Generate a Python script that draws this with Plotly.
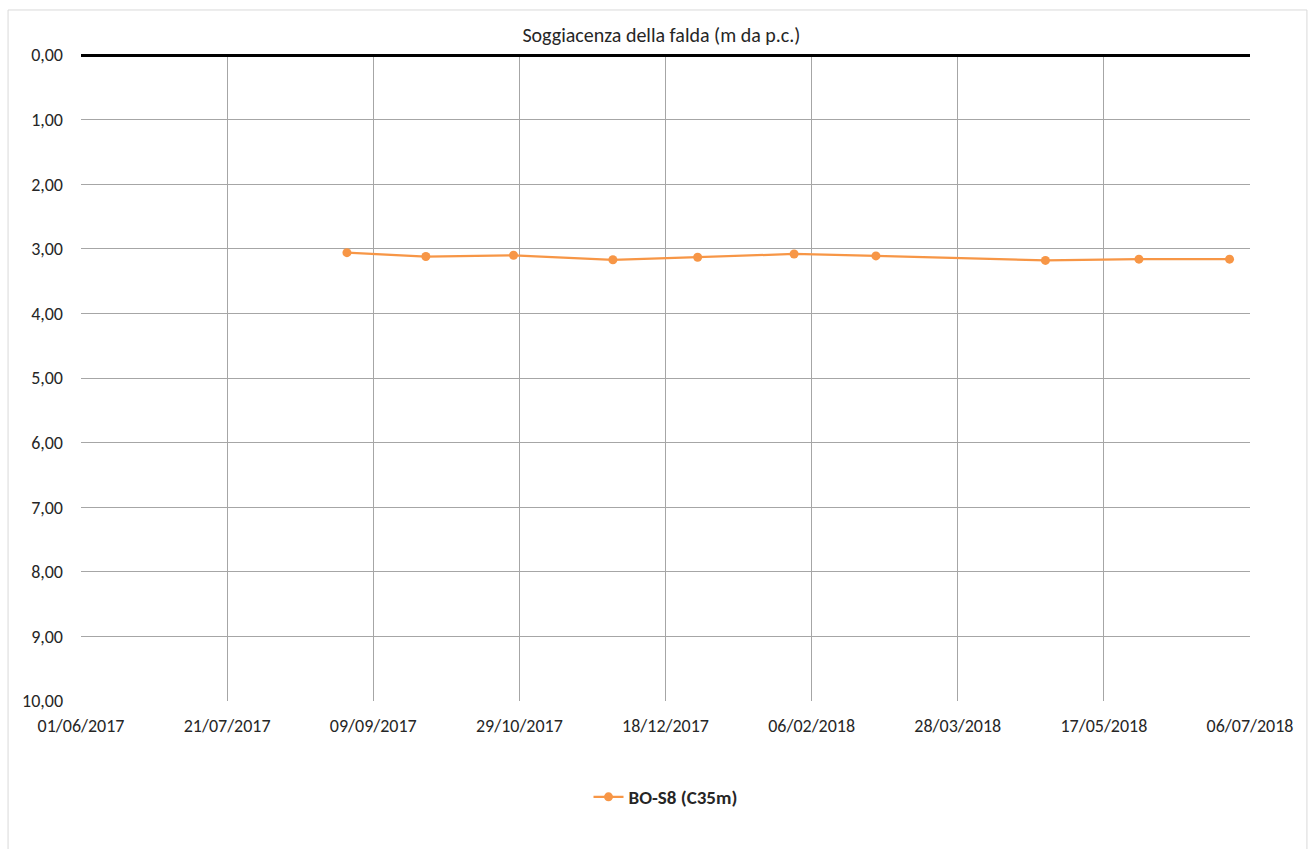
import datetime as dt
import plotly.graph_objects as go

# Groundwater depth below ground level (m) for well BO-S8
dates = ["2017-08-31", "2017-09-27", "2017-10-27", "2017-11-30", "2017-12-29",
         "2018-01-31", "2018-02-28", "2018-04-27", "2018-05-29", "2018-06-29"]
depth = [3.06, 3.12, 3.10, 3.17, 3.13, 3.08, 3.11, 3.18, 3.16, 3.16]

x_tick_labels = ["01/06/2017", "21/07/2017", "09/09/2017", "29/10/2017", "18/12/2017",
                 "06/02/2018", "28/03/2018", "17/05/2018", "06/07/2018"]
y_tick_values = [0, 1, 2, 3, 4, 5, 6, 7, 8, 9, 10]
y_tick_labels = ["0,00", "1,00", "2,00", "3,00", "4,00", "5,00",
                 "6,00", "7,00", "8,00", "9,00", "10,00"]

x_tick_values = [dt.datetime.strptime(s, "%d/%m/%Y").strftime("%Y-%m-%d") for s in x_tick_labels]

FONT = "Carlito, Calibri, Lato, sans-serif"
ORANGE = "#F79646"
GRID = "#A6A6A6"
TEXT = "#262626"

fig = go.Figure()
fig.add_trace(go.Scatter(
    x=dates, y=depth, mode="lines+markers", name="BO-S8 (C35m)",
    line=dict(color=ORANGE, width=2.25),
    marker=dict(color=ORANGE, size=9),
))

fig.update_layout(
    width=1311, height=849,
    margin=dict(l=81, r=61, t=55, b=148),
    paper_bgcolor="white", plot_bgcolor="white",
    font=dict(family=FONT, size=18, color=TEXT),
    title=dict(text="Soggiacenza della falda (m da p.c.)", x=0.5045, xanchor="center",
               y=1 - 35 / 849, yanchor="middle", font=dict(family=FONT, size=20, color=TEXT)),
    showlegend=True,
    legend=dict(orientation="h", x=0.5, xanchor="center", y=-0.1486, yanchor="middle",
                font=dict(family=FONT, size=19, color=TEXT, weight="bold")),
    xaxis=dict(
        type="date", range=[x_tick_values[0], x_tick_values[-1]],
        tickmode="array", tickvals=x_tick_values, ticktext=x_tick_labels,
        showgrid=True, gridcolor=GRID, gridwidth=1,
        showline=False, zeroline=False, ticks="", ticklabelstandoff=12,
        tickfont=dict(family=FONT, size=18, color=TEXT),
    ),
    yaxis=dict(
        range=[10, 0], tickmode="array", tickvals=y_tick_values, ticktext=y_tick_labels,
        showgrid=True, gridcolor=GRID, gridwidth=1,
        zeroline=True, zerolinecolor="black", zerolinewidth=2.5,
        showline=False, ticks="", ticklabelstandoff=17,
        tickfont=dict(family=FONT, size=18, color=TEXT),
    ),
    shapes=[dict(type="rect", xref="paper", yref="paper",
                 x0=-0.0624, x1=1.0487, y0=-0.26, y1=1.0697,
                 line=dict(color="#D9D9D9", width=1), fillcolor="rgba(0,0,0,0)", layer="below")],
)

fig.write_html("out.html")
